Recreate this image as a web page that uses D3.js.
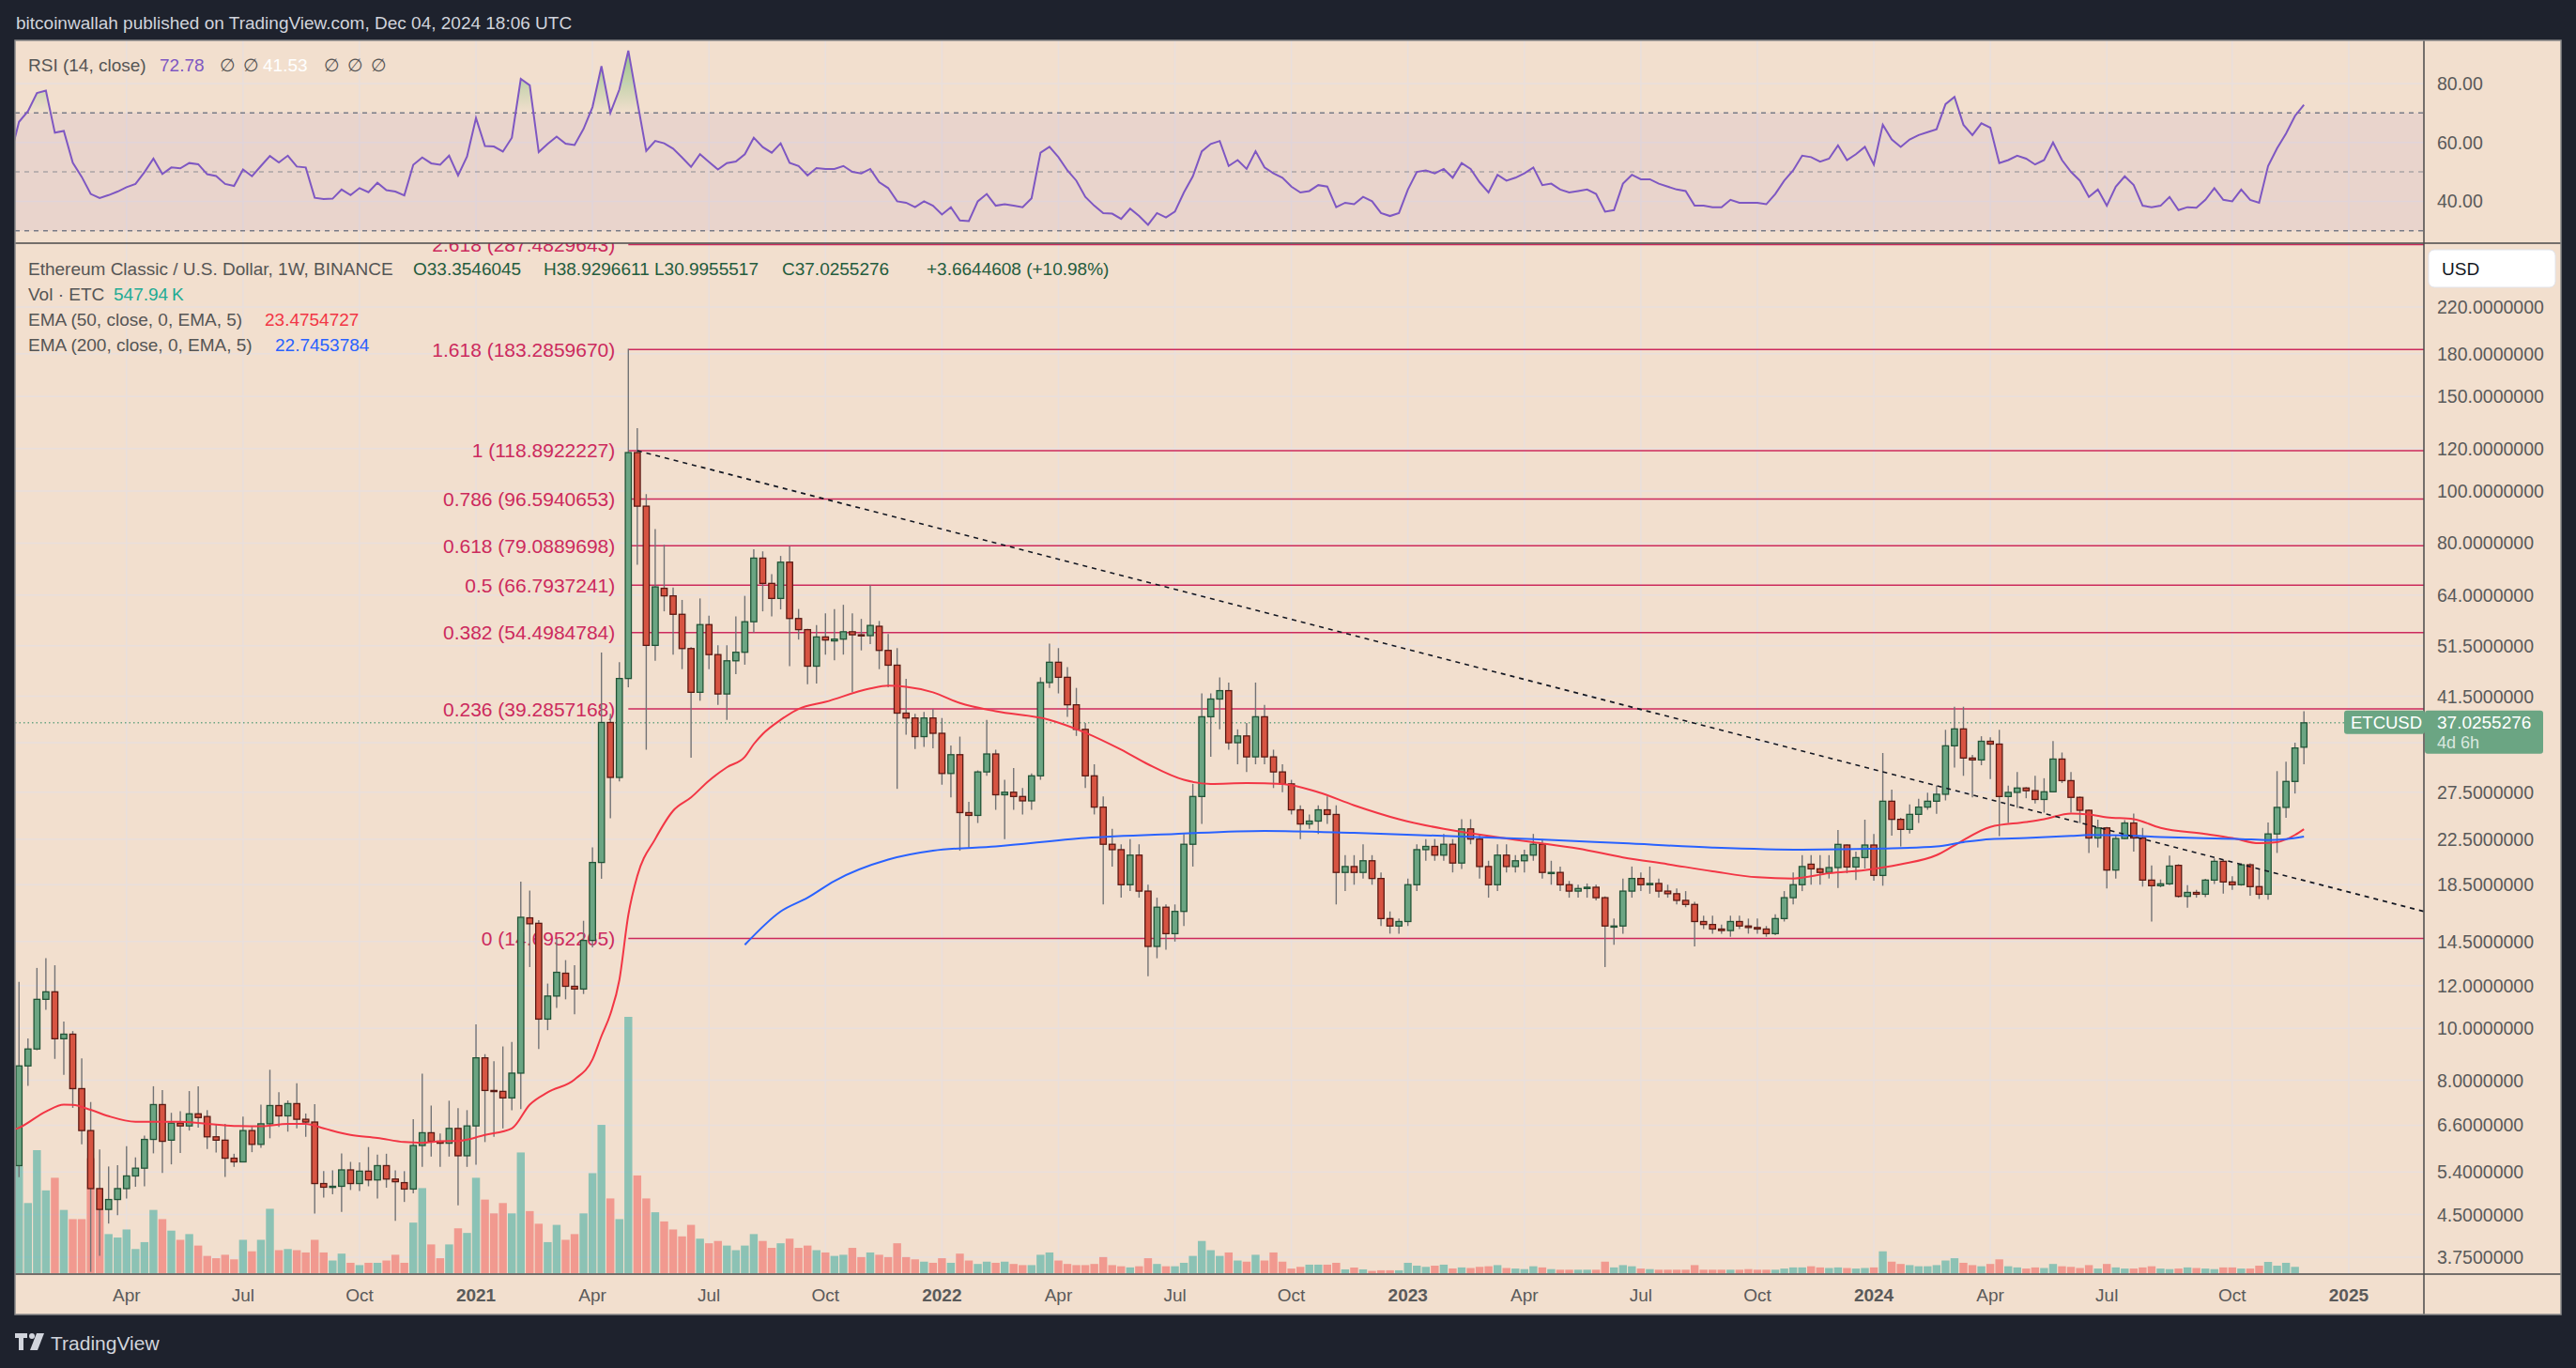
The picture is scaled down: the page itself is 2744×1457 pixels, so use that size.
<!DOCTYPE html>
<html>
<head>
<meta charset="utf-8">
<script src="https://cdn.jsdelivr.net/npm/d3@7"></script>
<style>
html, body { margin: 0; padding: 0; background: #1e222d; }
svg { display: block; }
text { font-family: "Liberation Sans", Arial, sans-serif; }
</style>
</head>
<body>
<svg id="chart" width="2744" height="1457"></svg>
<script>
// ---- data (weekly bars, week index 0 = 2020-01-06) ----
var baseWeek = "2020-01-06";
var firstBar = 1;

// [open, high, low, close]
var ohlc = [
	[5.55,12.2,5.28,8.51],[8.51,9.57,7.81,9.15],[9.15,12.95,9.10,11.32],[11.32,13.5,10.82,11.69],[11.69,13.1,8.77,9.56],
	[9.56,10.29,8.19,9.75],[9.75,9.88,7.11,7.72],[7.72,8.79,6.08,6.45],[6.45,7.29,3.52,5.03],[5.03,5.95,3.77,4.60],
	[4.60,5.53,4.33,4.80],[4.80,5.56,4.49,5.03],[5.03,6.03,4.82,5.31],[5.31,5.75,5.07,5.49],[5.49,6.31,5.08,6.21],
	[6.21,7.80,5.85,7.21],[7.21,7.67,5.38,6.16],[6.19,6.96,5.58,6.66],[6.66,7.01,5.86,6.58],[6.58,7.64,6.45,6.93],
	[6.93,7.80,6.53,6.82],[6.85,7.04,5.96,6.28],[6.28,6.62,5.87,6.19],[6.19,6.64,5.29,5.73],[5.73,5.84,5.52,5.64],
	[5.64,6.85,5.64,6.45],[6.45,6.55,5.88,6.08],[6.08,7.21,5.99,6.64],[6.64,8.37,6.24,7.18],[7.18,7.60,6.55,6.87],
	[6.87,7.34,6.42,7.24],[7.24,7.90,6.51,6.77],[6.77,6.94,6.28,6.69],[6.69,7.22,4.52,5.14],[5.14,5.42,4.84,5.06],
	[5.06,5.44,4.91,5.08],[5.08,5.85,4.55,5.45],[5.45,5.64,5.00,5.14],[5.14,5.63,4.98,5.42],[5.42,6.01,5.08,5.22],
	[5.22,5.82,4.82,5.55],[5.55,5.84,5.05,5.24],[5.24,5.44,4.38,5.18],[5.16,5.42,4.75,5.02],[5.02,6.77,4.93,6.05],
	[6.05,8.23,5.52,6.39],[6.39,7.18,5.77,6.16],[6.16,6.37,5.52,6.11],[6.11,7.33,5.77,6.51],[6.51,7.10,4.68,5.79],
	[5.79,7.04,5.52,6.58],[6.58,10.17,5.57,8.81],[8.81,8.95,6.14,7.66],[7.66,8.68,6.28,7.63],[7.63,9.25,6.51,7.42],
	[7.42,9.43,7.04,8.25],[8.25,18.74,7.07,16.09],[16.05,18.04,13.0,15.65],[15.68,15.9,9.15,10.40],[10.40,12.11,9.92,11.48],
	[11.48,14.67,10.91,12.71],[12.66,13.39,11.32,11.97],[11.97,13.10,10.62,11.83],[11.83,15.85,11.58,14.57],[14.57,21.71,14.15,20.35],
	[20.35,50.05,18.98,37.08],[37.08,38.5,24.6,29.3],[29.3,48.0,28.8,44.77],[44.77,184,43.1,117.9],[117.9,130.9,72.9,93.7],
	[93.7,98.7,33.0,51.6],[51.6,84.9,48.3,66.3],[65.9,79.4,59.7,63.8],[63.8,66.1,49.6,58.95],[58.95,62.7,46.6,50.9],
	[50.9,51.2,31.9,42.2],[42.2,63.1,40.7,56.4],[56.4,58.6,46.6,49.6],[49.6,51.6,40.0,41.9],[41.9,51.6,37.5,48.3],
	[48.3,58.4,45.6,50.1],[50.1,63.8,47.5,57.1],[57.1,77.9,54.5,75.0],[75.0,77.2,59.7,67.3],[67.3,70.0,58.4,63.1],
	[63.1,75.7,60.2,73.7],[73.7,78.9,47.2,57.9],[57.9,60.3,52.9,55.2],[55.2,55.4,43.7,47.2],[47.2,56.3,43.8,53.5],
	[53.5,59.2,49.6,52.8],[52.6,60.3,48.4,53.0],[53.0,61.4,49.6,54.7],[54.7,59.2,42.2,54.0],[54.0,57.8,50.5,53.8],
	[53.8,66.7,51.9,56.2],[56.0,57.3,46.6,50.5],[50.5,54.2,43.1,47.4],[47.4,51.0,27.9,38.6],[38.6,44.7,35.2,37.8],
	[37.8,38.5,33.1,34.9],[34.9,38.8,33.4,37.8],[37.8,39.3,33.2,35.4],[35.4,37.8,28.4,29.8],[29.8,33.6,26.9,32.3],
	[32.3,34.9,21.4,25.2],[25.2,26.4,21.7,24.9],[24.9,30.2,24.1,30.0],[30.0,37.5,29.5,32.4],[32.4,33.0,25.5,27.2],
	[27.2,29,22.5,27.5],[27.5,30.5,25.5,27],[27,28,25,26.5],[26.5,29.8,25.5,29.5],[29.5,45,29,44],
	[44,52,43,48],[48,51,42,45],[45,47,38,40],[40,43,35,36],[36,37,28,29.5],
	[29.5,31,25,25.8],[25.8,27,17,22],[22,23.5,20,21.5],[21.5,22,17.5,18.5],[18.5,22.5,18,21],
	[21,22,17.5,18],[18,18.5,12.5,14.2],[14.2,17.5,13.5,16.8],[16.8,17,14,15],[15,17,14.5,16.5],
	[16.5,23,15.5,22],[22,28.5,20,27],[27,42,24,38],[38,42,32,41],[41,45,36,42.5],
	[42.5,44,33,34],[34,36,31,35],[35,37,30,32],[32,44,31,38],[38,40,31,32],
	[32,33,28,30],[30,31,27.5,28.5],[28.5,29,25,25.5],[25.5,26,22.5,24],[24,25,23.5,24.3],
	[24.3,26,23,25.5],[25.5,27,24,25],[25,26,17,19.5],[19.5,21,18,20],[20,21,18.5,19.5],
	[19.5,22,19,20.5],[20.5,21,18.5,19],[19,19.5,15.5,16],[16,16.5,15,15.5],[15.5,16,15,15.8],
	[15.8,19,15.5,18.5],[18.5,22,18,21.5],[21.5,22.5,20.5,21.8],[21.8,22.5,20.5,21],[21,23,20.5,22],
	[22,22.5,19.5,20.3],[20.3,24.5,19.8,23.5],[23.5,24.5,22,22.5],[22.5,23,19,20],[20,20.5,17.5,18.5],
	[18.5,22,18,21],[21,22,19.5,20],[20,21,19.5,20.5],[20.5,21.5,19.5,21],[21,23,20.5,22],
	[22,22.5,19,19.5],[19.5,20.5,18.5,19.5],[19.5,20,18,18.5],[18.5,18.8,17.5,18],[18,18.5,17.5,18.2],
	[18.2,18.6,17.5,18.3],[18.3,18.5,17.3,17.5],[17.5,17.6,13,15.5],[15.5,16,14.3,15.5],[15.5,19,15,18],
	[18,20,17.5,19],[19,19.5,18,18.5],[18.5,20,17.8,18.6],[18.6,19,17.5,18],[18,18.5,17.5,17.8],
	[17.8,18.2,17,17.3],[17.3,18,16.8,17],[17,17.2,14.2,15.8],[15.8,16.2,15.3,15.6],[15.6,16.2,15,15.3],
	[15.3,15.6,15,15.2],[15.2,16.2,14.8,15.8],[15.8,16.2,15.3,15.5],[15.5,16,15,15.4],[15.4,16,15,15.3],
	[15.3,15.5,14.8,15],[15,16.3,14.9,16],[16,18,15.8,17.5],[17.5,19.5,17,18.5],[18.5,21,18,20],
	[20.2,21,18.5,19.8],[19.8,21,18.5,19.5],[19.5,21,19,19.91],[19.91,23.39,18.25,21.99],[21.93,21.99,19.43,19.96],
	[19.96,21.33,18.87,20.78],[20.78,24.45,19.83,21.93],[21.93,22.99,18.82,19.25],[19.25,32.53,18.42,26.46],[26.46,27.81,22.84,24.48],
	[24.48,24.65,21.79,23.45],[23.45,26.1,23.05,25.01],[25.01,26.73,24.1,25.8],[25.8,27.44,25.5,26.46],[26.46,28.29,25.08,27.26],
	[27.26,35.93,26.55,33.55],[33.55,39.67,30.56,36.07],[36.07,39.67,29.5,31.84],[31.84,32.27,26.9,31.58],[31.58,34.96,30.87,34.21],
	[34.21,34.8,29.1,33.8],[33.8,35.93,22.78,27.0],[27.0,28.29,24.1,27.48],[27.48,30.0,25.7,28.0],[28.0,28.1,26.8,27.68],
	[27.68,29.5,26.2,26.66],[26.66,29.2,25.2,27.55],[27.55,34.25,27.5,31.7],[31.7,32.6,28.6,28.9],[28.9,30.0,25.2,26.9],
	[26.9,27.0,24.1,25.45],[25.45,25.55,21.2,22.6],[22.6,24.45,21.7,23.6],[23.6,23.7,18.2,19.7],[19.7,22.84,19.0,22.55],
	[22.55,24.4,22.5,24.1],[24.1,25.1,21.33,22.6],[22.6,23.6,18.35,18.87],[18.87,20.1,15.8,18.42],[18.42,18.92,18.3,18.57],
	[18.57,20.97,18.47,20.04],[20.1,20.2,17.5,17.6],[17.6,18.47,16.77,17.9],[17.9,18.1,17.5,17.76],[17.76,18.97,17.55,18.87],
	[18.87,20.7,18.55,20.45],[20.45,20.56,17.8,18.72],[18.72,19.18,18.1,18.5],[18.5,20.28,18.42,20.15],[20.15,20.28,17.65,18.35],
	[18.35,19.83,17.4,17.76],[17.76,24.15,17.35,23.0],[23.0,30.1,21.2,25.77],[25.77,31.35,24.65,28.8],[28.8,34.0,27.35,33.24],
	[33.3546045,38.9296611,30.9955517,37.0255276]
];

// weekly volume, millions of ETC
var volume = [
	9.3,6.1,10.7,7.2,8.3,5.5,4.7,4.7,10.0,5.5, 3.4,3.1,3.8,2.1,2.7,5.5,4.7,3.7,2.9,3.4,
	2.4,1.5,1.3,1.6,1.2,2.9,1.9,2.9,5.6,2.0, 2.1,2.0,1.8,2.9,1.8,1.1,1.7,0.9,0.7,0.9,
	0.9,1.1,1.6,0.9,4.4,7.4,2.5,1.3,2.5,3.9, 3.5,8.3,6.4,5.2,6.1,5.2,10.5,5.4,4.3,2.7,
	4.2,2.9,3.4,5.2,8.7,12.9,6.5,4.7,22.3,8.5, 6.5,5.3,4.5,3.8,3.2,4.2,3.0,2.6,2.8,2.4,
	2.0,2.4,3.4,2.8,2.2,2.6,3.0,2.2,2.4,2.0, 1.8,1.5,1.6,2.2,1.4,1.8,1.6,1.4,2.6,1.4,
	1.2,1.0,0.9,1.3,0.9,1.7,1.1,0.8,1.0,0.9, 1.0,0.8,0.7,0.7,1.6,1.8,1.1,0.8,0.7,0.7,
	0.8,1.4,0.7,0.6,0.5,0.6,1.3,0.8,0.6,0.6, 0.9,1.5,2.8,2.0,1.5,1.8,1.1,1.0,1.6,1.1,
	1.8,1.0,0.4,0.55,0.74,0.74,0.74,0.9,0.33,0.49, 0.33,0.2,0.25,0.25,0.25,0.9,0.65,0.55,0.65,0.74,
	0.41,0.5,0.45,0.55,0.6,0.7,0.45,0.4,0.35,0.6, 0.5,0.35,0.3,0.3,0.3,0.3,0.3,1.0,0.5,0.7,
	0.6,0.4,0.35,0.3,0.3,0.3,0.3,0.7,0.3,0.3, 0.3,0.3,0.3,0.35,0.3,0.3,0.3,0.4,0.5,0.5,
	0.6,0.5,0.45,0.5,0.45,0.4,0.45,0.5,1.9,1.0, 0.8,0.7,0.6,0.6,0.7,1.1,1.3,0.9,0.7,0.6,
	0.8,1.2,0.6,0.5,0.4,0.5,0.45,0.8,0.6,0.55, 0.45,0.7,0.4,0.8,0.5,0.4,0.4,0.5,0.6,0.4,
	0.35,0.4,0.5,0.45,0.4,0.35,0.5,0.5,0.4,0.4, 0.65,0.98,0.65,0.9,0.55
];

// EMA lines: [week index, value]
var ema50 = [
	[0,6.45],[1,6.53],[4,7.0],[6,7.21],[7,7.2],[9,7.05],[11,6.86],[14,6.70],[19,6.70],[22,6.64],[25,6.58],[28,6.57],
	[31,6.64],[33,6.64],[35,6.51],[38,6.33],[41,6.25],[44,6.14],[46,6.12],[48,6.16],[50,6.17],[53,6.33],[56,6.51],
	[58,7.21],[60,7.6],[63,8.03],[65,8.75],[66,9.67],[67,10.63],[68,12.3],[69,16.25],[70,19.2],[72,22.5],[74,25.4],
	[76,26.9],[78,28.9],[80,30.6],[82,32.0],[83,33.8],[84,35.3],[86,37.5],[88,39.3],[91,40.5],[96,42.9],[98,43.4],
	[100,43.2],[103,42.2],[106,40.3],[110,38.9],[116,37.5],[120,35.5],[124,33],[127,31],[131,29],[134,28.5],[138,28.6],
	[142,28.5],[146,27.5],[150,26],[155,24.5],[160,23.5],[165,22.8],[170,22.2],[175,21.6],[180,20.8],[185,20.2],
	[190,19.6],[195,19.1],[199,19.0],[203,19.43],[207,19.7],[211,20.2],[215,21.0],[217,21.9],[221,23.7],[225,24.2],
	[227,24.5],[230,25.1],[232,25.0],[234,24.7],[237,24.5],[240,23.6],[245,23.0],[248,22.6],[251,22.1],[253,22.2],
	[255,22.9],[256,23.4754727]
];
var ema200 = [
	[82,14.3],[86,16.5],[89,17.5],[92,18.8],[98,20.6],[103,21.4],[110,21.8],[120,22.6],[130,23.0],[140,23.3],
	[150,23.1],[160,22.8],[170,22.5],[180,22.1],[190,21.7],[200,21.5],[209,21.6],[215,21.8],[218,22.2],[221,22.5],
	[225,22.6],[230,22.8],[232,22.9],[236,22.85],[240,22.7],[244,22.6],[249,22.5],[252,22.4],[254,22.5],[256,22.7453784]
];

// RSI(14): [week index, value]
var rsi = [
	[0,55],[1,67],[2,70.6],[3,76.8],[4,77.6],[5,63.3],[6,63.9],[7,53.1],[8,48.3],[9,42.5],[10,41.1],[11,42.1],
	[12,43.3],[13,44.8],[14,45.9],[15,49.9],[16,54.5],[17,49.3],[18,51.5],[19,51.2],[20,53.0],[21,52.6],[22,49.2],
	[23,48.6],[24,45.9],[25,45.2],[26,50.8],[27,48.5],[28,52.0],[29,55.4],[30,53.2],[31,55.5],[32,51.8],[33,51.5],
	[34,41.2],[35,40.8],[36,40.9],[37,44.0],[38,42.1],[39,44.5],[40,43.1],[41,46.3],[42,43.8],[43,43.3],[44,42.0],
	[45,52.4],[46,54.9],[47,52.9],[48,52.4],[49,55.5],[50,48.8],[51,55.2],[52,68.3],[53,58.8],[54,58.6],[55,56.9],
	[56,61.6],[57,81.6],[58,79.4],[59,56.7],[60,59.5],[61,62.0],[62,59.6],[63,59.1],[64,64.6],[65,72],[66,85.9],
	[67,70.1],[68,78],[69,91.2],[70,74],[71,57.1],[72,60.5],[73,59.7],[74,57.9],[75,54.9],[76,51.7],[77,56.0],
	[78,53.4],[79,50.8],[80,53.0],[81,53.5],[82,56.0],[83,61.6],[84,58.4],[85,56.5],[86,59.7],[87,53.1],[88,52.0],
	[89,48.8],[90,51.3],[91,51.0],[92,51.0],[93,52.0],[94,50],[95,49.5],[96,51],[97,46.5],[98,44.5],[99,40],
	[100,39.5],[101,38],[102,40],[103,38.5],[104,35.5],[105,38],[106,33.5],[107,33.3],[108,40],[109,42.5],[110,38.5],
	[111,39],[112,38.5],[113,38],[114,41],[115,56.5],[116,58.5],[117,55],[118,50.5],[119,47],[120,41.5],[121,38.5],
	[122,36],[123,35.8],[124,34],[125,37.5],[126,35],[127,32],[128,36],[129,34.5],[130,36.5],[131,43],[132,48.5],
	[133,57],[134,59.5],[135,60.5],[136,52],[137,54],[138,51],[139,57],[140,51.5],[141,49.5],[142,48],[143,45],
	[144,43],[145,43.5],[146,45.5],[147,45],[148,38],[149,39.5],[150,39],[151,41.5],[152,40],[153,36],[154,35],
	[155,36],[156,44],[157,50],[158,50.5],[159,49.5],[160,51],[161,48],[162,53],[163,51],[164,46.5],[165,43],
	[166,49],[167,47],[168,48],[169,49.5],[170,51.5],[171,45.5],[172,46],[173,44],[174,43],[175,43.5],[176,44],
	[177,42.5],[178,36.5],[179,37],[180,46],[181,49],[182,47.5],[183,47.5],[184,46],[185,45],[186,44],[187,43.5],
	[188,38.5],[189,38.5],[190,38],[191,38],[192,40.5],[193,39.5],[194,39.5],[195,39.5],[196,39],[197,42.5],[198,47],
	[199,50.5],[200,55.5],[201,55],[202,53.5],[203,54.5],[204,59],[205,54],[206,56],[207,58.5],[208,52.5],[209,66],
	[210,61],[211,58.5],[212,61],[213,62.5],[214,63.5],[215,64.5],[216,73],[217,75.5],[218,66],[219,62.5],[220,66.5],
	[221,65],[222,53],[223,54],[224,55.5],[225,54.5],[226,52.5],[227,54],[228,60],[229,54],[230,50],[231,47],
	[232,41.5],[233,44],[234,38.5],[235,45],[236,48.5],[237,45.5],[238,38.5],[239,38],[240,38.5],[241,41.5],[242,37],
	[243,38],[244,37.8],[245,40.5],[246,44.5],[247,40.5],[248,40],[249,44],[250,40.5],[251,39.5],[252,52],[253,58],
	[254,63],[255,69],[256,72.78]
];

var fibRatios = ["2.618","1.618","1","0.786","0.618","0.5","0.382","0.236","0"];
var fibPrices = [287.4829643,183.2859670,118.8922227,96.5940653,79.0889698,66.7937241,54.4984784,39.2857168,14.6952265];
var fibStartWeek = 69;

var trendLine = [[70,118.9],[270,16.4]];

var priceTicks = [220,180,150,120,100,80,64,51.5,41.5,34,27.5,22.5,18.5,14.5,12,10,8,6.6,5.4,4.5,3.75];
var rsiTicks = [80,60,40];
var rsiLevels = [70,50,30];

var lastPrice = 37.0255276;
var legendOHLC = ["O33.3546045","H38.9296611","L30.9955517","C37.0255276","+3.6644608 (+10.98%)"];

// ---- layout ----
var W = 2744, H = 1457;
var L = 16, R = 2582, RR = 2728;
var rsiTop = 43, rsiBot = 259, mainTop = 259, mainBot = 1357, axisBot = 1400;

var BG = "#f2dfce", GRID = "#e9dfdc", AXIS_TXT = "#5a5a5a";
var UP = "#6ba583", DOWN = "#d75442", UP_LINE = "#225437", DOWN_LINE = "#5b1a13", WICK = "#737375";
var FIB = "#cc2a5d";

var svg = d3.select("#chart");

function weekDate(k){
	return d3.utcMonday.offset(new Date(baseWeek + "T00:00:00Z"), k);
}

var x = d3.scaleUtc()
	.domain([weekDate(1), weekDate(256)])
	.range([20.25, 2454.2]);
var y = d3.scaleLog().domain([220, 3.75]).range([327, 1338.9]);
var yRsi = d3.scaleLinear().domain([80, 40]).range([89, 214.4]);
var yVol = d3.scaleLinear().domain([0, d3.max(volume)]).range([mainBot - 1, mainBot - 274]);

// background + frame
svg.append("rect").attr("width", W).attr("height", H).attr("fill", "#1e222d");
svg.append("rect").attr("x", L).attr("y", rsiTop).attr("width", RR - L).attr("height", axisBot - rsiTop).attr("fill", BG);

var defs = svg.append("defs");
defs.append("clipPath").attr("id", "clipMain").append("rect")
	.attr("x", L).attr("y", mainTop).attr("width", R - L).attr("height", mainBot - mainTop);
defs.append("clipPath").attr("id", "clipRsi").append("rect")
	.attr("x", L).attr("y", rsiTop).attr("width", R - L).attr("height", rsiBot - rsiTop);
defs.append("clipPath").attr("id", "clipOB").append("rect")
	.attr("x", L).attr("y", rsiTop).attr("width", R - L).attr("height", yRsi(70) - rsiTop);
var grad = defs.append("linearGradient").attr("id", "obGrad")
	.attr("gradientUnits", "userSpaceOnUse").attr("x1", 0).attr("x2", 0)
	.attr("y1", yRsi(95)).attr("y2", yRsi(70));
grad.append("stop").attr("offset", "0%").attr("stop-color", "#4caf50").attr("stop-opacity", 0.65);
grad.append("stop").attr("offset", "100%").attr("stop-color", "#4caf50").attr("stop-opacity", 0);

// time ticks: first weekly bar of each quarter
var tickMonths = d3.utcMonth.every(3).range(new Date("2020-04-01T00:00:00Z"), new Date("2025-01-02T00:00:00Z"));
var timeTicks = tickMonths.map(function(m){ return { date: d3.utcMonday.ceil(m), month: m }; });

// ---- grid ----
var grid = svg.append("g");
timeTicks.forEach(function(t){
	grid.append("line").attr("x1", x(t.date)).attr("x2", x(t.date))
		.attr("y1", rsiTop).attr("y2", mainBot).attr("stroke", GRID).attr("stroke-width", 1.5);
});
priceTicks.forEach(function(p){
	grid.append("line").attr("x1", L).attr("x2", R).attr("y1", y(p)).attr("y2", y(p))
		.attr("stroke", GRID).attr("stroke-width", 1.5);
});
rsiTicks.forEach(function(v){
	grid.append("line").attr("x1", L).attr("x2", R).attr("y1", yRsi(v)).attr("y2", yRsi(v))
		.attr("stroke", GRID).attr("stroke-width", 1.5);
});

// ---- RSI pane ----
var rsiG = svg.append("g").attr("clip-path", "url(#clipRsi)");
rsiG.append("rect").attr("x", L).attr("width", R - L)
	.attr("y", yRsi(70)).attr("height", yRsi(30) - yRsi(70))
	.attr("fill", "#7e57c2").attr("fill-opacity", 0.08);
rsiLevels.forEach(function(v){
	rsiG.append("line").attr("x1", L).attr("x2", R).attr("y1", yRsi(v)).attr("y2", yRsi(v))
		.attr("stroke", "#787b86").attr("stroke-opacity", v === 50 ? 0.55 : 1)
		.attr("stroke-width", 1.5).attr("stroke-dasharray", "5,5");
});
var rsiX = function(d){ return x(weekDate(d[0])); };
rsiG.append("path").datum(rsi)
	.attr("clip-path", "url(#clipOB)")
	.attr("fill", "url(#obGrad)")
	.attr("d", d3.area().x(rsiX).y0(yRsi(70)).y1(function(d){ return yRsi(d[1]); }));
rsiG.append("path").datum(rsi)
	.attr("fill", "none").attr("stroke", "#7e57c2").attr("stroke-width", 2)
	.attr("d", d3.line().x(rsiX).y(function(d){ return yRsi(d[1]); }));

// ---- main pane ----
var main = svg.append("g").attr("clip-path", "url(#clipMain)");

// fib levels
var fibX0 = x(weekDate(fibStartWeek));
fibPrices.forEach(function(p, i){
	main.append("line").attr("x1", fibX0).attr("x2", R).attr("y1", y(p)).attr("y2", y(p))
		.attr("stroke", FIB).attr("stroke-width", 1.5);
	main.append("text").attr("x", fibX0 - 14).attr("y", y(p)).attr("dy", "0.36em")
		.attr("text-anchor", "end").attr("font-size", 21).attr("fill", FIB)
		.text(fibRatios[i] + " (" + p.toFixed(7) + ")");
});

// volume
var bars = ohlc.map(function(d, i){
	return { k: i + firstBar, o: d[0], h: d[1], l: d[2], c: d[3], v: volume[i] };
});
main.append("g").selectAll("rect").data(bars).enter().append("rect")
	.attr("x", function(d){ return x(weekDate(d.k)) - 4.2; })
	.attr("width", 8.4)
	.attr("y", function(d){ return yVol(d.v); })
	.attr("height", function(d){ return yVol(0) - yVol(d.v); })
	.attr("fill", function(d){ return d.c >= d.o ? "rgba(38,166,154,0.5)" : "rgba(239,83,80,0.5)"; });

// last price line
main.append("line").attr("x1", L).attr("x2", R).attr("y1", y(lastPrice)).attr("y2", y(lastPrice))
	.attr("stroke", UP).attr("stroke-width", 1.5).attr("stroke-dasharray", "1.5,3");

// candles
var cg = main.append("g").selectAll("g").data(bars).enter().append("g");
cg.append("line")
	.attr("x1", function(d){ return x(weekDate(d.k)); })
	.attr("x2", function(d){ return x(weekDate(d.k)); })
	.attr("y1", function(d){ return y(d.h); })
	.attr("y2", function(d){ return y(d.l); })
	.attr("stroke", WICK).attr("stroke-width", 1.4);
cg.append("rect")
	.attr("x", function(d){ return x(weekDate(d.k)) - 3.2; })
	.attr("width", 6.4)
	.attr("y", function(d){ return y(Math.max(d.o, d.c)); })
	.attr("height", function(d){ return Math.max(1.2, Math.abs(y(d.o) - y(d.c))); })
	.attr("fill", function(d){ return d.c >= d.o ? UP : DOWN; })
	.attr("stroke", function(d){ return d.c >= d.o ? UP_LINE : DOWN_LINE; })
	.attr("stroke-width", 1.3);

// EMA lines
var emaLine = d3.line()
	.x(function(d){ return x(weekDate(d[0])); })
	.y(function(d){ return y(d[1]); })
	.curve(d3.curveMonotoneX);
main.append("path").datum(ema50).attr("fill", "none").attr("stroke", "#f23645").attr("stroke-width", 2).attr("d", emaLine);
main.append("path").datum(ema200).attr("fill", "none").attr("stroke", "#2962ff").attr("stroke-width", 2).attr("d", emaLine);

// trend line
main.append("line")
	.attr("x1", x(weekDate(trendLine[0][0]))).attr("y1", y(trendLine[0][1]))
	.attr("x2", x(weekDate(trendLine[1][0]))).attr("y2", y(trendLine[1][1]))
	.attr("stroke", "#131722").attr("stroke-width", 1.6).attr("stroke-dasharray", "5,5");

// ---- separators and borders ----
var frame = svg.append("g").attr("stroke", "#4a4a4a").attr("stroke-width", 1.5);
frame.append("line").attr("x1", L).attr("x2", RR).attr("y1", rsiBot).attr("y2", rsiBot);
frame.append("line").attr("x1", L).attr("x2", RR).attr("y1", mainBot).attr("y2", mainBot);
frame.append("line").attr("x1", R).attr("x2", R).attr("y1", rsiTop).attr("y2", axisBot);
svg.append("rect").attr("x", L).attr("y", rsiTop).attr("width", RR - L).attr("height", axisBot - rsiTop)
	.attr("fill", "none").attr("stroke", "#8a8a8a").attr("stroke-width", 1.5);

// ---- price axis ----
var axisG = svg.append("g");
var ly = y(lastPrice);
priceTicks.forEach(function(p){
	// the last-price label covers the ticks behind it
	if ( y(p) > ly - 26 && y(p) < ly + 44 ) return;
	axisG.append("text").attr("x", 2596).attr("y", y(p)).attr("dy", "0.36em")
		.attr("font-size", 19.5).attr("fill", AXIS_TXT).text(p.toFixed(7));
});
rsiTicks.forEach(function(v){
	axisG.append("text").attr("x", 2596).attr("y", yRsi(v)).attr("dy", "0.36em")
		.attr("font-size", 19.5).attr("fill", AXIS_TXT).text(v.toFixed(2));
});
axisG.append("rect").attr("x", 2587).attr("y", 266).attr("width", 135).attr("height", 40).attr("rx", 6)
	.attr("fill", "#ffffff").attr("stroke", "#e0e3eb");
axisG.append("text").attr("x", 2601).attr("y", 286).attr("dy", "0.36em")
	.attr("font-size", 19).attr("fill", "#131722").text("USD");

// last price label
axisG.append("rect").attr("x", 2583).attr("y", ly - 13).attr("width", 126).attr("height", 46).attr("rx", 3).attr("fill", UP);
axisG.append("text").attr("x", 2596).attr("y", ly - 1).attr("dy", "0.36em").attr("font-size", 19).attr("fill", "#ffffff").text(lastPrice.toFixed(7));
axisG.append("text").attr("x", 2596).attr("y", ly + 21).attr("dy", "0.36em").attr("font-size", 18).attr("fill", "#ffffff").attr("fill-opacity", 0.75).text("4d 6h");
axisG.append("rect").attr("x", 2497).attr("y", ly - 13).attr("width", 86).attr("height", 25).attr("rx", 3).attr("fill", UP);
axisG.append("text").attr("x", 2504).attr("y", ly - 1).attr("dy", "0.36em").attr("font-size", 18.5).attr("fill", "#ffffff").text("ETCUSD");

// ---- time axis ----
timeTicks.forEach(function(t){
	var isYear = t.month.getUTCMonth() === 0;
	svg.append("text").attr("x", x(t.date)).attr("y", 1379).attr("dy", "0.36em")
		.attr("text-anchor", "middle").attr("font-size", 19)
		.attr("font-weight", isYear ? "bold" : "normal").attr("fill", AXIS_TXT)
		.text(isYear ? d3.utcFormat("%Y")(t.month) : d3.utcFormat("%b")(t.month));
});

// ---- legends ----
var leg = svg.append("g").attr("font-size", 19);
leg.append("text").attr("x", 17).attr("y", 24).attr("dy", "0.36em").attr("fill", "#d1d4dc")
	.text("bitcoinwallah published on TradingView.com, Dec 04, 2024 18:06 UTC");

function legendText(xx, yy, txt, color){
	leg.append("text").attr("x", xx).attr("y", yy).attr("dy", "0.36em").attr("fill", color).text(txt);
}
legendText(30, 69, "RSI (14, close)", "#555555");
legendText(170, 69, "72.78", "#7e57c2");
legendText(234, 69, "\u2205", "#555555");
legendText(259, 69, "\u2205", "#555555");
legendText(280, 69, "41.53", "#ffffff");
legendText(345, 69, "\u2205", "#555555");
legendText(370, 69, "\u2205", "#555555");
legendText(395, 69, "\u2205", "#555555");

legendText(30, 286, "Ethereum Classic / U.S. Dollar, 1W, BINANCE", "#555555");
var ohlcX = [440, 579, 697, 833, 987];
legendOHLC.forEach(function(t, i){ legendText(ohlcX[i], 286, t, "#245c3d"); });
legendText(30, 313, "Vol \u00b7 ETC", "#555555");
legendText(121, 313, "547.94\u2009K", "#22ab94");
legendText(30, 340, "EMA (50, close, 0, EMA, 5)", "#555555");
legendText(282, 340, "23.4754727", "#f23645");
legendText(30, 367, "EMA (200, close, 0, EMA, 5)", "#555555");
legendText(293, 367, "22.7453784", "#2962ff");

// ---- TradingView logo ----
var logo = svg.append("g").attr("fill", "#d1d4dc");
logo.append("path").attr("d", "M16,1420 h13 v5 h-4 v13 h-5 v-13 h-4 z");
logo.append("circle").attr("cx", 34).attr("cy", 1423).attr("r", 3);
logo.append("path").attr("d", "M39,1420 h8 l-7,18 h-8 z");
logo.append("text").attr("x", 54).attr("y", 1430).attr("dy", "0.36em").attr("font-size", 21).text("TradingView");
</script>
</body>
</html>
